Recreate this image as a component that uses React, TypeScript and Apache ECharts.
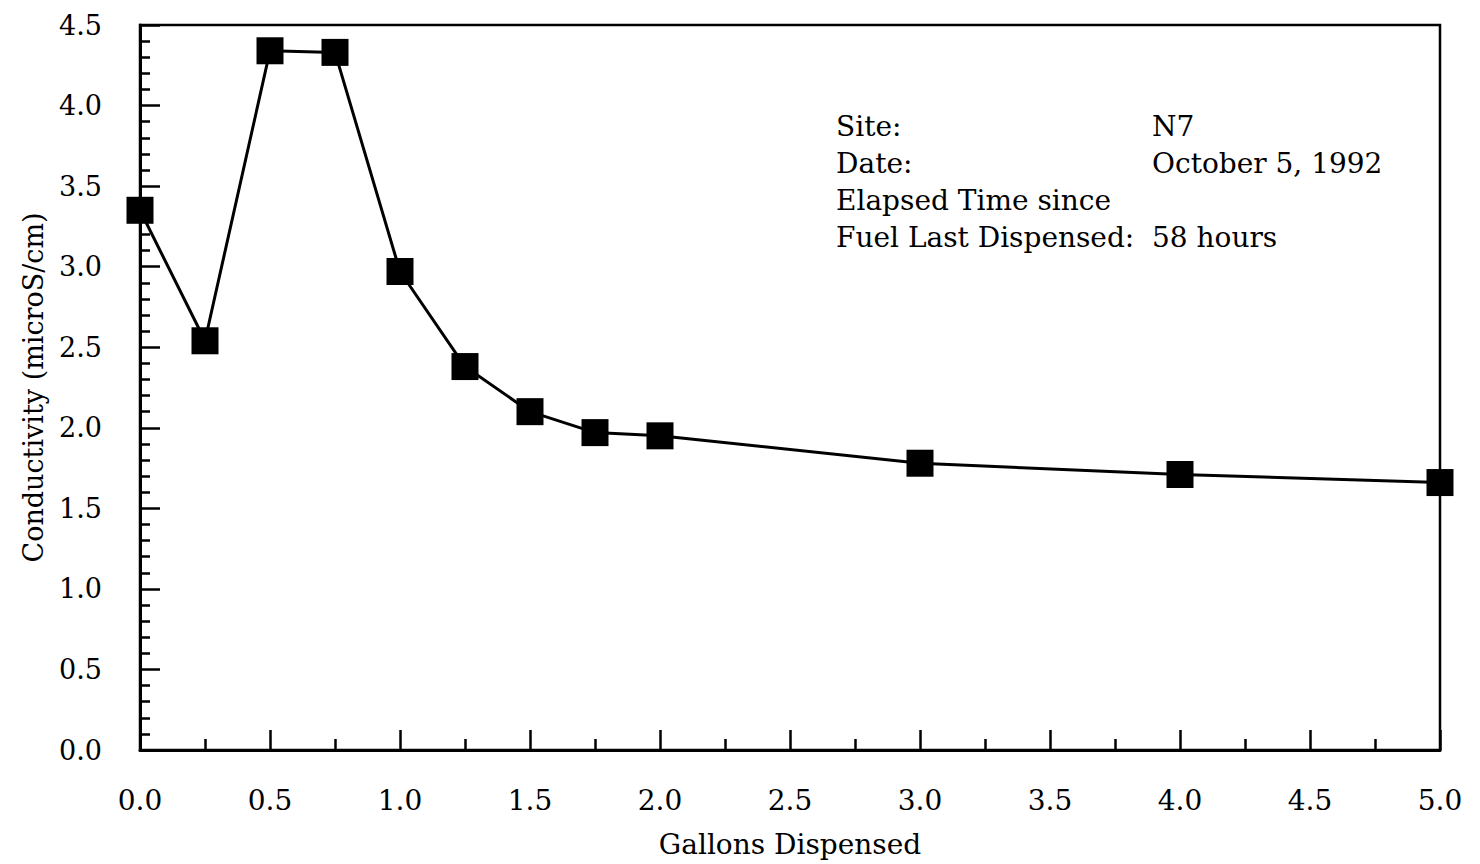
import React, { useEffect, useRef } from "react";
import * as echarts from "echarts";

const gallons = [0, 0.25, 0.5, 0.75, 1.0, 1.25, 1.5, 1.75, 2.0, 3.0, 4.0, 5.0];
const conductivity = [3.35, 2.54, 4.34, 4.33, 2.97, 2.38, 2.1, 1.97, 1.95, 1.78, 1.71, 1.66];

const infoLabels = ["Site:", "Date:", "Elapsed Time since", "Fuel Last Dispensed:"];
const infoValues = ["N7", "October 5, 1992", "", "58 hours"];

const FONT = "'DejaVu Serif', 'Liberation Serif', serif";

export default function App() {
  const ref = useRef<HTMLDivElement>(null);

  useEffect(() => {
    if (!ref.current) return;
    const chart = echarts.init(ref.current, null, { renderer: "svg" });
    const textStyle = { fontFamily: FONT, fontSize: 28, fill: "#000", verticalAlign: "middle" };
    const graphics: any[] = [];
    infoLabels.forEach((t, i) => {
      graphics.push({
        type: "text",
        x: 836,
        y: 126 + i * 37,
        style: { ...textStyle, text: t },
      });
    });
    infoValues.forEach((t, i) => {
      if (!t) return;
      graphics.push({
        type: "text",
        x: 1152,
        y: 126 + i * 37,
        style: { ...textStyle, text: t },
      });
    });

    chart.setOption({
      animation: false,
      backgroundColor: "#fff",
      grid: {
        left: 140,
        right: 40,
        top: 25,
        bottom: 114,
        show: true,
        borderColor: "#000",
        borderWidth: 2.5,
        backgroundColor: "transparent",
      },
      xAxis: {
        type: "value",
        min: 0,
        max: 5,
        interval: 0.5,
        name: "Gallons Dispensed",
        nameLocation: "middle",
        nameGap: 80,
        nameTextStyle: { fontFamily: FONT, fontSize: 28, color: "#000" },
        axisLine: { show: true, lineStyle: { color: "#000", width: 3 } },
        axisTick: { show: true, inside: true, length: 20, lineStyle: { color: "#000", width: 2.5 } },
        minorTick: { show: true, splitNumber: 2, length: 11, lineStyle: { color: "#000", width: 2.5 } },
        splitLine: { show: false },
        axisLabel: {
          fontFamily: FONT,
          fontSize: 28,
          color: "#000",
          margin: 36,
          formatter: (v: number) => v.toFixed(1),
        },
      },
      yAxis: {
        type: "value",
        min: 0,
        max: 4.5,
        interval: 0.5,
        name: "Conductivity (microS/cm)",
        nameLocation: "middle",
        nameGap: 93,
        nameTextStyle: { fontFamily: FONT, fontSize: 27, color: "#000" },
        axisLine: { show: true, lineStyle: { color: "#000", width: 3 } },
        axisTick: { show: true, inside: true, length: 20, lineStyle: { color: "#000", width: 2.5 } },
        minorTick: { show: true, splitNumber: 5, length: 10, lineStyle: { color: "#000", width: 2.5 } },
        splitLine: { show: false },
        axisLabel: {
          fontFamily: FONT,
          fontSize: 27,
          color: "#000",
          margin: 38,
          formatter: (v: number) => v.toFixed(1),
        },
      },
      series: [
        {
          type: "line",
          data: gallons.map((g, i) => [g, conductivity[i]]),
          symbol: "rect",
          symbolSize: 27,
          clip: false,
          lineStyle: { color: "#000", width: 3 },
          itemStyle: { color: "#000" },
        },
      ],
      graphic: graphics,
    });
    return () => chart.dispose();
  }, []);

  return (
    <div
      ref={ref}
      style={{ position: "absolute", left: 0, top: 0, width: 1480, height: 864, background: "#fff" }}
    />
  );
}
